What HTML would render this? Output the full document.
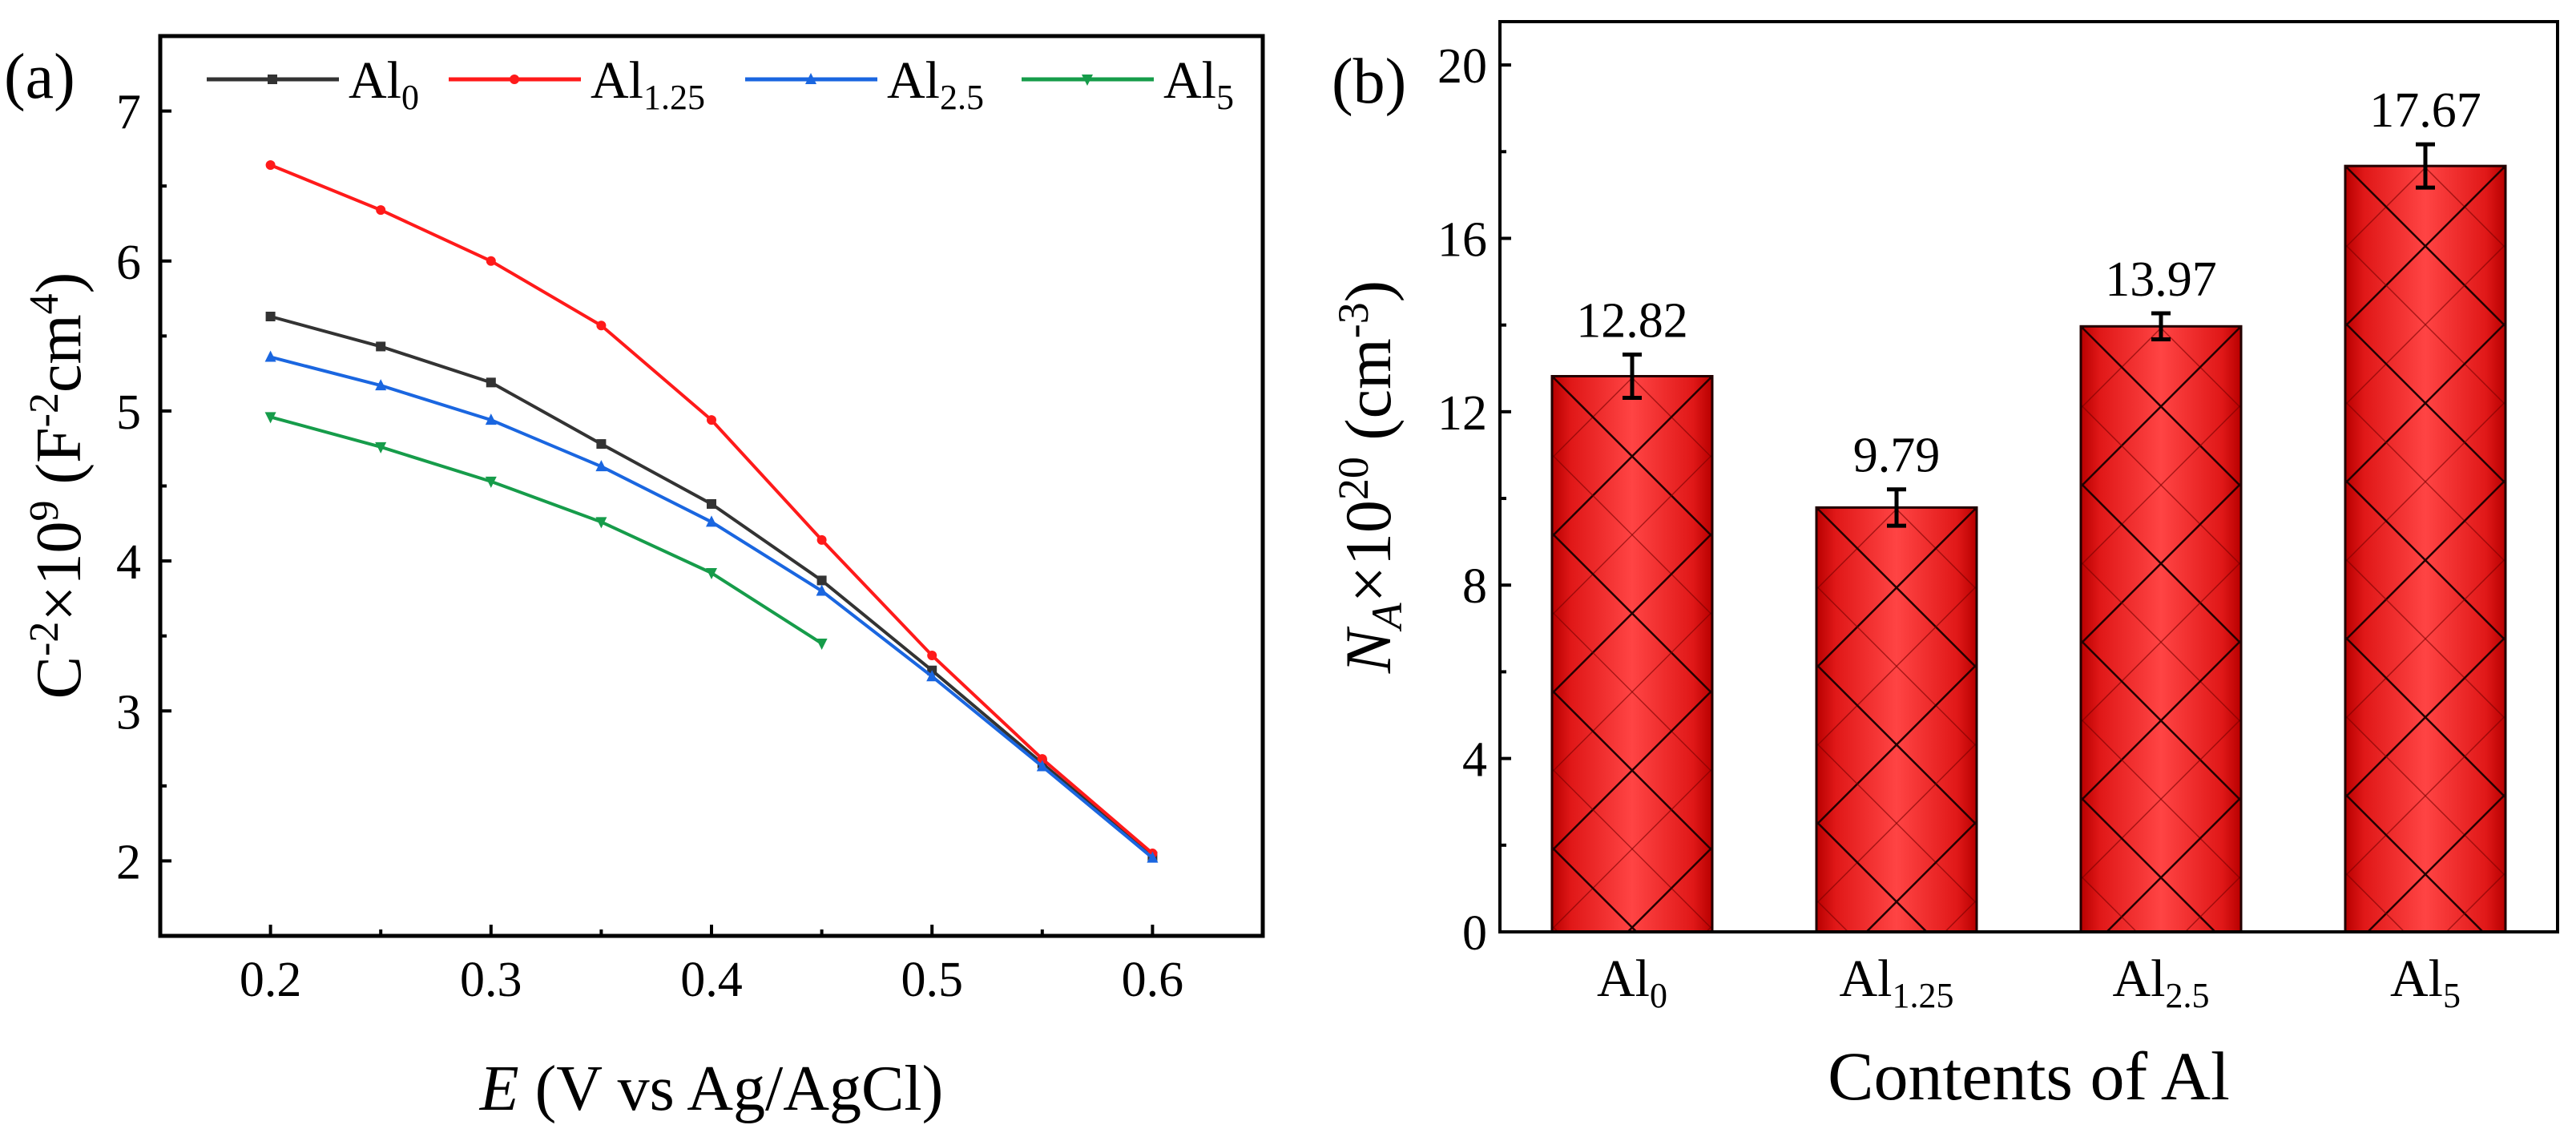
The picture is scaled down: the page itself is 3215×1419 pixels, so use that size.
<!DOCTYPE html>
<html><head><meta charset="utf-8"><style>
html,body{margin:0;padding:0;background:#fff;width:3215px;height:1419px;overflow:hidden}
svg{display:block;font-family:"Liberation Serif","DejaVu Serif",serif}
</style></head><body>
<svg id="fig" width="3215" height="1419" viewBox="0 0 3215 1419" font-family="Liberation Serif, DejaVu Serif, serif" xmlns="http://www.w3.org/2000/svg">
<defs>
<linearGradient id="barGrad" x1="0" x2="1" y1="0" y2="0">
<stop offset="0" stop-color="#b80000"/><stop offset="0.12" stop-color="#e01818"/><stop offset="0.5" stop-color="#ff4444"/><stop offset="0.88" stop-color="#e01818"/><stop offset="1" stop-color="#b80000"/>
</linearGradient>
</defs>
<g id="panelA"></g>
<g id="panelB"></g>
</svg>
<script>
// ---- Panel (a) data ----
const potentials = [0.2,0.25,0.3,0.35,0.4,0.45,0.5,0.55,0.6];
const seriesNames = ['Al0','Al1.25','Al2.5','Al5'];
const al0Values = [5.63,5.43,5.19,4.78,4.38,3.87,3.27,2.65,2.03];
const al125Values = [6.64,6.34,6.0,5.57,4.94,4.14,3.37,2.68,2.05];
const al25Values = [5.36,5.17,4.94,4.63,4.26,3.80,3.23,2.63,2.02];
const al5Values = [4.96,4.76,4.53,4.26,3.92,3.45];
const xTicksA = [0.2,0.3,0.4,0.5,0.6];
const yTicksA = [2,3,4,5,6,7];
// ---- Panel (b) data ----
const categoriesB = ['Al0','Al1.25','Al2.5','Al5'];
const naValues = [12.82,9.79,13.97,17.67];
const naErrors = [0.5,0.42,0.3,0.5];
const naLabels = ['12.82','9.79','13.97','17.67'];
const yTicksB = [0,4,8,12,16,20];

const NS='http://www.w3.org/2000/svg';
function mk(parent,tag,attrs,text){const e=document.createElementNS(NS,tag);for(const k in attrs)e.setAttribute(k,attrs[k]);if(text!==undefined)e.textContent=text;parent.appendChild(e);return e;}

// ===== Panel A =====
const A=document.getElementById('panelA');
const aL=200,aR=1576,aT=45,aB=1168;
const xA=v=>aL+(v-0.15)/(0.5)*(aR-aL);
const yA=v=>aB-(v-1.5)/6*(aB-aT);
let fr=mk(A,'rect',{x:aL,y:aT,width:aR-aL,height:aB-aT,fill:'none',stroke:'#000','stroke-width':5});

for(let v=0.2;v<=0.6001;v+=0.05){const x=xA(v);const major=Math.abs(Math.round(v*10)-v*10)<1e-6;
 const t=mk(A,'line',{x1:x,x2:x,y1:aB,y2:aB-(major?14:8),stroke:'#000','stroke-width':4});
 }
xTicksA.forEach(v=>{const t=mk(A,'text',{x:xA(v),y:1243,'font-size':62,'text-anchor':'middle'},v.toFixed(1));
 });
for(let v=2;v<=7.001;v+=0.5){const y=yA(v);const major=Math.abs(v-Math.round(v))<1e-6;
 const t=mk(A,'line',{x1:aL,x2:aL+(major?14:8),y1:y,y2:y,stroke:'#000','stroke-width':4});
 }
yTicksA.forEach(v=>{const t=mk(A,'text',{x:176,y:yA(v)+22,'font-size':62,'text-anchor':'end'},String(v));
 });
let xt=mk(A,'text',{x:888,y:1385,'font-size':80,'text-anchor':'middle'});
xt.innerHTML='<tspan font-style="italic">E</tspan> (V vs Ag/AgCl)';

let yt=mk(A,'text',{x:0,y:0,'font-size':80,'text-anchor':'middle',transform:'translate(100,606) rotate(-90)'});
yt.innerHTML='C<tspan dy="-28" font-size="52">-2</tspan><tspan dy="28">×10</tspan><tspan dy="-28" font-size="52">9</tspan><tspan dy="28"> (F</tspan><tspan dy="-28" font-size="52">-2</tspan><tspan dy="28">cm</tspan><tspan dy="-28" font-size="52">4</tspan><tspan dy="28">)</tspan>';

let pa=mk(A,'text',{x:5,y:122,'font-size':80},'(a)');


const colors=['#333333','#ff1a1a','#1a66e0','#169c4a'];
const markers=['square','circle','tri-up','tri-down'];
const seriesVals=[al0Values,al125Values,al25Values,al5Values];
function marker(g,type,x,y,c){
 if(type==='square')return mk(g,'rect',{x:x-6,y:y-6,width:12,height:12,fill:c});
 if(type==='circle')return mk(g,'circle',{cx:x,cy:y,r:6,fill:c});
 if(type==='tri-up')return mk(g,'polygon',{points:`${x},${y-8} ${x-7},${y+6} ${x+7},${y+6}`,fill:c});
 return mk(g,'polygon',{points:`${x},${y+8} ${x-7},${y-6} ${x+7},${y-6}`,fill:c});}
seriesVals.forEach((vals,i)=>{
 const g=mk(A,'g',{});
 
 
 const pts=vals.map((v,j)=>xA(potentials[j])+','+yA(v)).join(' ');
 const l=mk(g,'polyline',{points:pts,fill:'none',stroke:colors[i],'stroke-width':4});
 
 vals.forEach((v,j)=>{const m=marker(g,markers[i],xA(potentials[j]),yA(v),colors[i]);
  });
});
// legend
const legX=[258,560,930,1275];
const legSub=['0','1.25','2.5','5'];
seriesNames.forEach((n,i)=>{
 const g=mk(A,'g',{});
 
 const x0=legX[i];
 mk(g,'line',{x1:x0,x2:x0+165,y1:99,y2:99,stroke:colors[i],'stroke-width':5});
 marker(g,markers[i],x0+82,99,colors[i]);
 const t=mk(g,'text',{x:x0+177,y:122,'font-size':66});
 t.innerHTML='Al<tspan font-size="44" dy="14">'+legSub[i]+'</tspan>';
});

// ===== Panel B =====
const B=document.getElementById('panelB');
const bL=1872,bR=3192,bT=27,bB=1163;
const xB=i=>bL+(i+0.5)*(bR-bL)/4;
const yB=v=>bB-v/21*(bB-bT);
const barW=200;
const defs=document.querySelector('defs');
categoriesB.forEach((c,i)=>{
 const g=mk(B,'g',{});
 
 
 const x=xB(i)-barW/2,y=yB(naValues[i]),h=bB-y;
 const cp=mk(defs,'clipPath',{id:'clip'+i});mk(cp,'rect',{x:x,y:y,width:barW,height:h});
 mk(g,'rect',{x:x,y:y,width:barW,height:h,fill:'url(#barGrad)'});
 const hg=mk(g,'g',{'clip-path':'url(#clip'+i+')'});
 const P=196;
 for(let k=-2;k*P<h+P*2;k++){
  const y0=y+k*P;
  mk(hg,'line',{x1:x,y1:y0,x2:x+barW,y2:y0+barW,stroke:'#200','stroke-width':2.5});
  mk(hg,'line',{x1:x+barW,y1:y0,x2:x,y2:y0+barW,stroke:'#200','stroke-width':2.5});
  mk(hg,'line',{x1:x,y1:y0+P/2,x2:x+barW,y2:y0+P/2+barW,stroke:'#700','stroke-width':1.5,'stroke-opacity':0.6});
  mk(hg,'line',{x1:x+barW,y1:y0+P/2,x2:x,y2:y0+P/2+barW,stroke:'#700','stroke-width':1.5,'stroke-opacity':0.6});
 }
 mk(g,'rect',{x:x,y:y,width:barW,height:h,fill:'none',stroke:'#200','stroke-width':3});
 const e=mk(B,'g',{});
 
 const cx=xB(i),yh=yB(naValues[i]+naErrors[i]),yl=yB(naValues[i]-naErrors[i]);
 mk(e,'line',{x1:cx,x2:cx,y1:yh,y2:yl,stroke:'#000','stroke-width':5});
 mk(e,'line',{x1:cx-12,x2:cx+12,y1:yh,y2:yh,stroke:'#000','stroke-width':5});
 mk(e,'line',{x1:cx-12,x2:cx+12,y1:yl,y2:yl,stroke:'#000','stroke-width':5});
 const vl=mk(B,'text',{x:cx,y:yh-22,'font-size':62,'text-anchor':'middle'},naLabels[i]);
 
 const sub=['0','1.25','2.5','5'][i];
 const xl=mk(B,'text',{x:cx,y:1243,'font-size':66,'text-anchor':'middle'});
 xl.innerHTML='Al<tspan font-size="44" dy="14">'+sub+'</tspan>';
 
});
let fb=mk(B,'rect',{x:bL,y:bT,width:bR-bL,height:bB-bT,fill:'none',stroke:'#000','stroke-width':4});

for(let v=0;v<=20;v+=2){const y=yB(v);const major=v%4===0;
 const t=mk(B,'line',{x1:bL,x2:bL+(major?14:8),y1:y,y2:y,stroke:'#000','stroke-width':4});
 }
yTicksB.forEach(v=>{const t=mk(B,'text',{x:1856,y:yB(v)+22,'font-size':62,'text-anchor':'end'},String(v));
 });
let xtb=mk(B,'text',{x:2532,y:1372,'font-size':86,'text-anchor':'middle'},'Contents of Al');

let ytb=mk(B,'text',{x:0,y:0,'font-size':82,'text-anchor':'middle',transform:'translate(1735,595) rotate(-90)'});
ytb.innerHTML='<tspan font-style="italic">N</tspan><tspan font-style="italic" font-size="54" dy="14">A</tspan><tspan dy="-14">×10</tspan><tspan dy="-28" font-size="54">20</tspan><tspan dy="28"> (cm</tspan><tspan dy="-28" font-size="54">-3</tspan><tspan dy="28">)</tspan>';

let pb=mk(B,'text',{x:1662,y:128,'font-size':80},'(b)');

</script>
</body></html>
